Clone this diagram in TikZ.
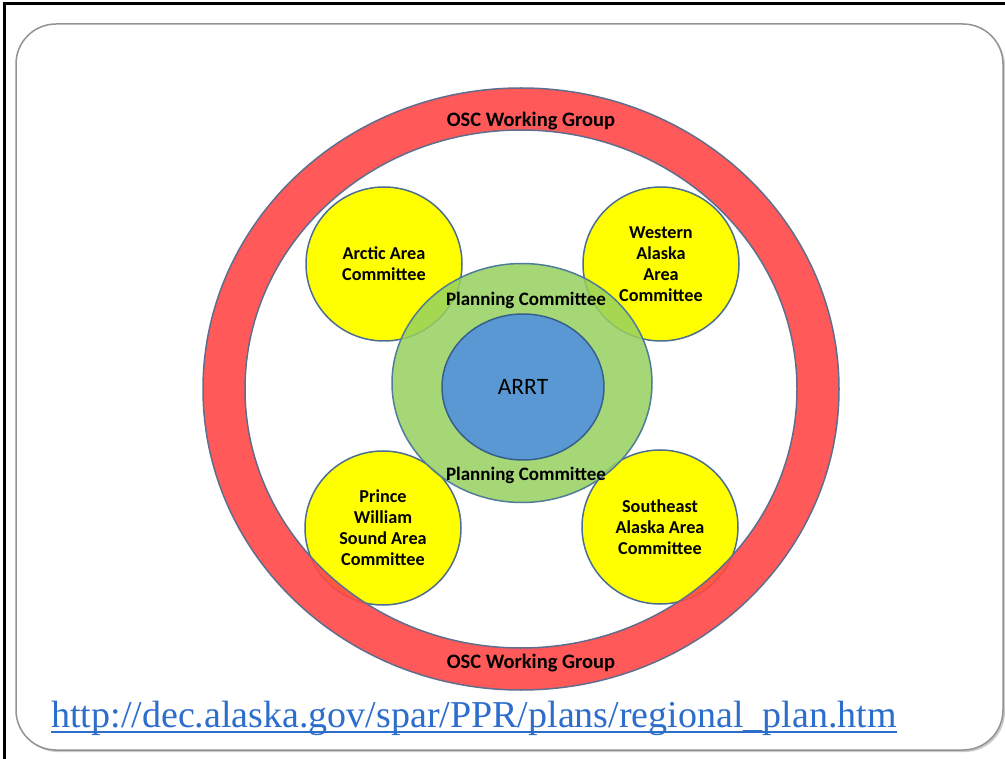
\documentclass[tikz,border=0pt]{standalone}
\usepackage{fontspec}
\setmainfont{Carlito}
\newfontfamily\urlfont{Liberation Serif}
\usetikzlibrary{shapes.geometric,shadows}
\definecolor{ringred}{RGB}{255,72,72}
\definecolor{ringedge}{RGB}{95,110,140}
\definecolor{areayellow}{RGB}{255,255,0}
\definecolor{areaedge}{RGB}{75,110,145}
\definecolor{plangreen}{RGB}{150,208,95}
\definecolor{planedge}{RGB}{80,125,150}
\definecolor{arrtblue}{RGB}{90,152,212}
\definecolor{arrtedge}{RGB}{55,95,140}
\definecolor{urlblue}{RGB}{45,110,205}
\begin{document}
\begin{tikzpicture}[x=1pt,y=-1pt,
    area/.style={ellipse, draw=areaedge, line width=1.5pt, fill=areayellow,
        minimum width=156pt, minimum height=154pt, inner sep=0pt, align=center,
        font=\bfseries\fontsize{18.2}{21}\selectfont},
    label/.style={font=\bfseries\fontsize{19}{22}\selectfont, inner sep=0pt},
    ring/.style={fill=ringred, fill opacity=0.9, draw=ringedge, line width=1.5pt, even odd rule}]
    \useasboundingbox (0,0) rectangle (1005,759);
    \fill[white] (0,0) rectangle (1005,759);
    \draw[line width=3pt] (4,759) -- (4,4) -- (1005,4);
    \draw[rounded corners=40pt, draw=gray!85, line width=1.5pt, fill=white,
        drop shadow={shadow xshift=2pt, shadow yshift=-2pt, opacity=0.4}] (16,24) rectangle (1003,750);
    \node[area] (arctic) at (384,264) {Arctic Area\\Committee};
    \node[area] (western) at (661,264) {Western\\Alaska\\Area\\Committee};
    \node[area] (prince) at (383,528) {Prince\\William\\Sound Area\\Committee};
    \node[area] (southeast) at (660,527) {Southeast\\Alaska Area\\Committee};
    \draw[ring] (521,389) ellipse [x radius=318, y radius=301]
                (521,389) ellipse [x radius=276, y radius=259];
    \node[label, font=\bfseries\fontsize{20.5}{22}\selectfont] (osctop) at (531,121) {OSC Working Group};
    \node[label, font=\bfseries\fontsize{20.5}{22}\selectfont] (oscbottom) at (531,663) {OSC Working Group};
    \node[ellipse, draw=planedge, line width=1.5pt, fill=plangreen, fill opacity=0.85,
        minimum width=260pt, minimum height=239pt] (plan) at (522,383) {};
    \node[ellipse, draw=arrtedge, line width=1.5pt, fill=arrtblue,
        minimum width=162pt, minimum height=146pt, font=\fontsize{23.5}{26}\selectfont] (arrt) at (523,387) {ARRT};
    \node[label] (plantop) at (526,300) {Planning Committee};
    \node[label] (planbottom) at (526,475) {Planning Committee};
    \node[text=urlblue, inner sep=0pt, font=\urlfont\fontsize{38}{40}\selectfont] (url) at (474,718)
        {http://dec.alaska.gov/spar/PPR/plans/regional\_plan.htm};
    \draw[urlblue, line width=1.3pt] ([yshift=-5pt]url.base west) -- ([yshift=-5pt]url.base east);
\end{tikzpicture}
\end{document}
